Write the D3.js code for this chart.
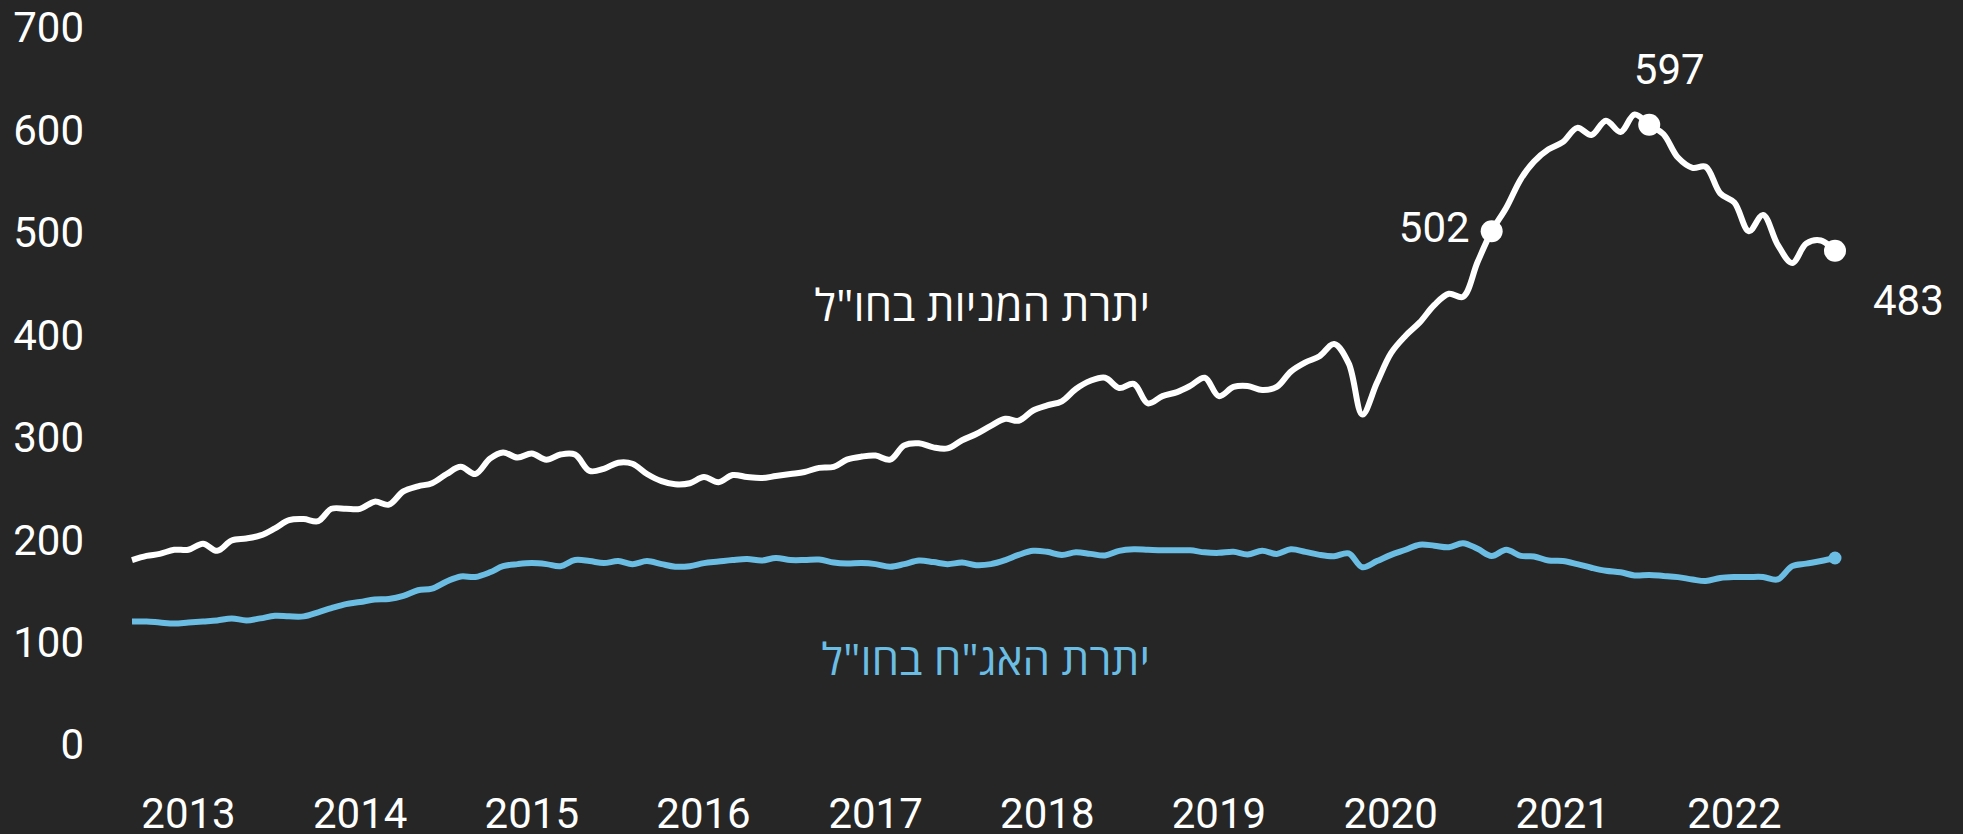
<!DOCTYPE html>
<html>
<head>
<meta charset="utf-8">
<script src="https://cdn.jsdelivr.net/npm/d3@7"></script>
<style>
  html, body { margin: 0; padding: 0; background: #262626; }
  svg { display: block; }
  .axis text { fill: #ffffff; font-family: "Roboto", "Open Sans", sans-serif; font-size: 42px; }
  .label { font-family: "Open Sans", "DejaVu Sans", sans-serif; font-size: 44px; }
  .note { fill: #ffffff; font-family: "Roboto", "Open Sans", sans-serif; font-size: 42px; }
</style>
</head>
<body>
<div id="chart"></div>
<script>
// monthly, Jan 2013 .. Dec 2022
var startMonth = new Date(2013, 0, 1);

var stocks = [
  181, 185, 187, 191, 191, 197, 190, 200, 202, 205, 212, 220,
  221, 219, 231, 231, 231, 238, 235, 248, 253, 256, 265, 272,
  265, 280, 286, 281, 285, 279, 284, 284, 268, 270, 276, 275,
  265, 258, 255, 256, 262, 257, 264, 262, 261, 263, 265, 267,
  271, 272, 279, 282, 283, 279, 293, 295, 291, 290, 298, 304,
  312, 319, 317, 327, 332, 336, 348, 356, 359, 349, 353, 334,
  341, 345, 351, 359, 341, 350, 351, 347, 350, 365, 374, 380,
  392, 373, 323, 354, 383, 400, 413, 430, 441, 438, 472, 502,
  525, 553, 570, 582, 589, 603, 596, 610, 599, 616, 606, 597,
  574, 564, 565, 539, 530, 502, 518, 489, 471, 490, 493, 483
];

var bonds = [
  121, 121, 120, 119, 120, 121, 122, 124, 122, 124, 126.5, 126,
  126, 130, 134, 138, 140, 142.5, 143, 146, 151.5, 153, 160, 165,
  164.5, 169, 175, 177, 178, 177, 175, 181, 180, 178, 180, 177,
  180, 177, 174.5, 175, 178, 179.5, 181, 182, 180.5, 183, 181, 181,
  181.5, 178.5, 177.5, 178, 177, 174.5, 177, 180.5, 179, 177, 178.5, 176,
  177, 181, 186, 190, 189, 186, 188.5, 187, 185.5, 190, 191.5, 191,
  190.5, 190.5, 190.5, 188.5, 188, 189, 186.5, 190, 187, 191.5, 189, 186,
  184.7, 187.5, 174, 180, 186, 191, 196, 195, 193.5, 197.5, 192, 185,
  191, 185, 184.5, 180.5, 180, 177, 173.5, 170.5, 169, 166, 166.5, 165.5,
  164.3, 162, 160.5, 163.5, 164.4, 164.4, 164.4, 162, 175, 177.5, 180, 183
];

var yTicks = [0, 100, 200, 300, 400, 500, 600, 700];
var years = [2013, 2014, 2015, 2016, 2017, 2018, 2019, 2020, 2021, 2022];

// highlighted points on the stocks line (month index) and their printed labels
var noteIndex = [95, 106, 119];
var noteText = ["502", "597", "483"];

var stocksName = "יתרת המניות בחו\"ל";
var bondsName = "יתרת האג\"ח בחו\"ל";

var width = 1963, height = 834;

var dates = stocks.map(function(d, i) {
  return new Date(startMonth.getFullYear(), startMonth.getMonth() + i, 1);
});

var svg = d3.select("#chart")
  .append("svg")
    .attr("width", width)
    .attr("height", height);

svg.append("rect")
  .attr("width", width)
  .attr("height", height)
  .attr("fill", "#262626");

var x = d3.scaleTime()
  .domain([dates[0], dates[dates.length - 1]])
  .range([132, 1835]);

var y = d3.scaleLinear()
  .domain([0, 700])
  .range([745.4, 28.5]);

// y axis, labels only
var yAxis = svg.append("g")
  .attr("class", "axis")
  .attr("transform", "translate(84,0)")
  .call(d3.axisLeft(y).tickValues(yTicks).tickSize(0).tickPadding(0));
yAxis.select(".domain").remove();

// x axis, labels only
var xAxis = svg.append("g")
  .attr("class", "axis")
  .attr("transform", "translate(0,798)")
  .call(d3.axisBottom(x)
    .tickValues(years.map(function(yr) { return new Date(yr, 0, 1); }))
    .tickFormat(d3.timeFormat("%Y"))
    .tickSize(0).tickPadding(0));
xAxis.select(".domain").remove();
xAxis.selectAll("text").attr("dx", 56);

var line = d3.line()
  .x(function(d, i) { return x(dates[i]); })
  .y(function(d) { return y(d); })
  .curve(d3.curveCatmullRom.alpha(0.5));

svg.append("path")
  .datum(bonds)
  .attr("fill", "none")
  .attr("stroke", "#6bbde4")
  .attr("stroke-width", 6)
  .attr("stroke-linejoin", "round")
  .attr("d", line);

svg.append("path")
  .datum(stocks)
  .attr("fill", "none")
  .attr("stroke", "#ffffff")
  .attr("stroke-width", 6)
  .attr("stroke-linejoin", "round")
  .attr("d", line);

// end dot on bonds
svg.append("circle")
  .attr("cx", x(dates[bonds.length - 1]))
  .attr("cy", y(bonds[bonds.length - 1]))
  .attr("r", 6.5)
  .attr("fill", "#6bbde4");

// highlighted stock points
svg.selectAll(".dot")
  .data(noteIndex)
  .enter()
  .append("circle")
    .attr("class", "dot")
    .attr("cx", function(i) { return x(dates[i]); })
    .attr("cy", function(i) { return y(stocks[i]); })
    .attr("r", 11)
    .attr("fill", "#ffffff");

// label placement relative to each dot
var noteOffset = [
  {dx: -22, dy: 11, anchor: "end"},
  {dx: 20, dy: -41, anchor: "middle"},
  {dx: 38, dy: 64, anchor: "start"}
];

svg.selectAll(".note")
  .data(noteIndex)
  .enter()
  .append("text")
    .attr("class", "note")
    .attr("x", function(i, k) { return x(dates[i]) + noteOffset[k].dx; })
    .attr("y", function(i, k) { return y(stocks[i]) + noteOffset[k].dy; })
    .attr("text-anchor", function(i, k) { return noteOffset[k].anchor; })
    .text(function(i, k) { return noteText[k]; });

// series names
svg.append("text")
  .attr("class", "label")
  .attr("x", 1150)
  .attr("y", 321)
  .attr("text-anchor", "end")
  .attr("fill", "#ffffff")
  .text(stocksName);

svg.append("text")
  .attr("class", "label")
  .attr("x", 1150)
  .attr("y", 675)
  .attr("text-anchor", "end")
  .attr("fill", "#6bbde4")
  .text(bondsName);
</script>
</body>
</html>
